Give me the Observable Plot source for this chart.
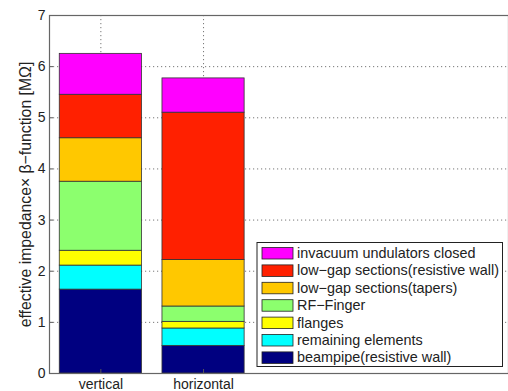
<!DOCTYPE html>
<html>
<head>
<meta charset="utf-8">
<script src="https://cdn.jsdelivr.net/npm/d3@7"></script>
<script src="https://cdn.jsdelivr.net/npm/@observablehq/plot@0.6"></script>
<style>
  html, body { margin: 0; padding: 0; background: #fff; }
  #chart svg { display: block; }
</style>
</head>
<body>
<div id="chart"></div>
<script>
// Planes shown as bars
const planes = ["vertical", "horizontal"];

// Impedance contributors, bottom of the stack first
const components = [
  "beampipe(resistive wall)",
  "remaining elements",
  "flanges",
  "RF\u2212Finger",
  "low\u2212gap sections(tapers)",
  "low\u2212gap sections(resistive wall)",
  "invacuum undulators closed"
];
const componentColors = ["#000080", "#00ffff", "#ffff00", "#8cff6e", "#ffc800", "#ff2000", "#ff00ff"];

// Contribution of each component [MΩ], same order as components
const verticalValues   = [1.64, 0.47, 0.29, 1.35, 0.85, 0.85, 0.80];
const horizontalValues = [0.54, 0.34, 0.13, 0.30, 0.91, 2.88, 0.67];

const yTicks = [0, 1, 2, 3, 4, 5, 6, 7];

// Long table: one row per bar segment, with cumulative bounds
const rows = [];
[verticalValues, horizontalValues].forEach((values, p) => {
  let base = 0;
  values.forEach((v, c) => {
    rows.push({plane: planes[p], pos: p + 1, component: components[c], y1: base, y2: base + v});
    base += v;
  });
});

const W = 508, H = 391;
const mL = 49, mR = 0, mT = 15, mB = 18;
const unit = 102.7; // pixels per category step
const xMax = 0.5 + (W - mL - mR) / unit;
const halfBar = 0.4;
const font = "Arial, 'Liberation Sans', Helvetica, sans-serif";

const plot = Plot.plot({
  width: W,
  height: H,
  marginLeft: mL,
  marginRight: mR,
  marginTop: mT,
  marginBottom: mB,
  style: {fontFamily: font, fontSize: "14px", color: "#222", background: "#fff"},
  x: {type: "linear", domain: [0.5, xMax], axis: null},
  y: {domain: [0, 7], axis: null},
  color: {domain: components, range: componentColors},
  marks: [
    // dotted grid
    Plot.ruleY(yTicks.slice(1), {stroke: "#777", strokeDasharray: "1.2,2.8", strokeWidth: 1}),
    Plot.ruleX(planes.map((_, i) => i + 1), {stroke: "#777", strokeDasharray: "1.2,2.8", strokeWidth: 1}),
    // stacked bars
    Plot.rect(rows, {
      x1: d => d.pos - halfBar,
      x2: d => d.pos + halfBar,
      y1: "y1",
      y2: "y2",
      fill: "component",
      stroke: "#333",
      strokeWidth: 0.8
    }),
    // axes with inward ticks
    Plot.axisY(yTicks, {
      tickSize: -4, tickPadding: 8, fontSize: 14, stroke: "#555",
      tickFormat: d => String(d),
      label: "effective impedance\u00d7 \u03b2\u2212function [M\u03a9]",
      labelAnchor: "center", labelArrow: "none", labelOffset: 30
    }),
    Plot.axisX(planes.map((_, i) => i + 1), {
      tickSize: -4, tickPadding: 10, fontSize: 14, stroke: "#555",
      tickFormat: i => planes[i - 1], label: null
    }),
    Plot.frame({stroke: "#666", strokeWidth: 1.2})
  ]
});

const svg = d3.select(plot);
// slightly larger axis title
svg.selectAll('g[aria-label="y-axis label"]').attr("font-size", 15.8);

// Legend box in the lower right of the plot area
const legend = svg.append("g")
  .attr("font-family", font)
  .attr("font-size", 14.4)
  .attr("text-anchor", "start");
const lx = 257, ly = 242.5, lw = 245.5, lh = 124, rowH = 17.4;
legend.append("rect")
  .attr("x", lx).attr("y", ly).attr("width", lw).attr("height", lh)
  .attr("fill", "#fff").attr("stroke", "#222").attr("stroke-width", 1);
components.slice().reverse().forEach((name, i) => {
  const cy = ly + 10.5 + i * rowH;
  const color = componentColors[components.length - 1 - i];
  legend.append("rect")
    .attr("x", lx + 5).attr("y", cy - 5.5).attr("width", 31).attr("height", 11.5)
    .attr("fill", color).attr("stroke", "#222").attr("stroke-width", 0.8);
  legend.append("text")
    .attr("x", lx + 40).attr("y", cy).attr("dy", "0.35em")
    .attr("text-anchor", "start")
    .attr("fill", "#222")
    .text(name);
});

document.getElementById("chart").appendChild(plot);
</script>
</body>
</html>
